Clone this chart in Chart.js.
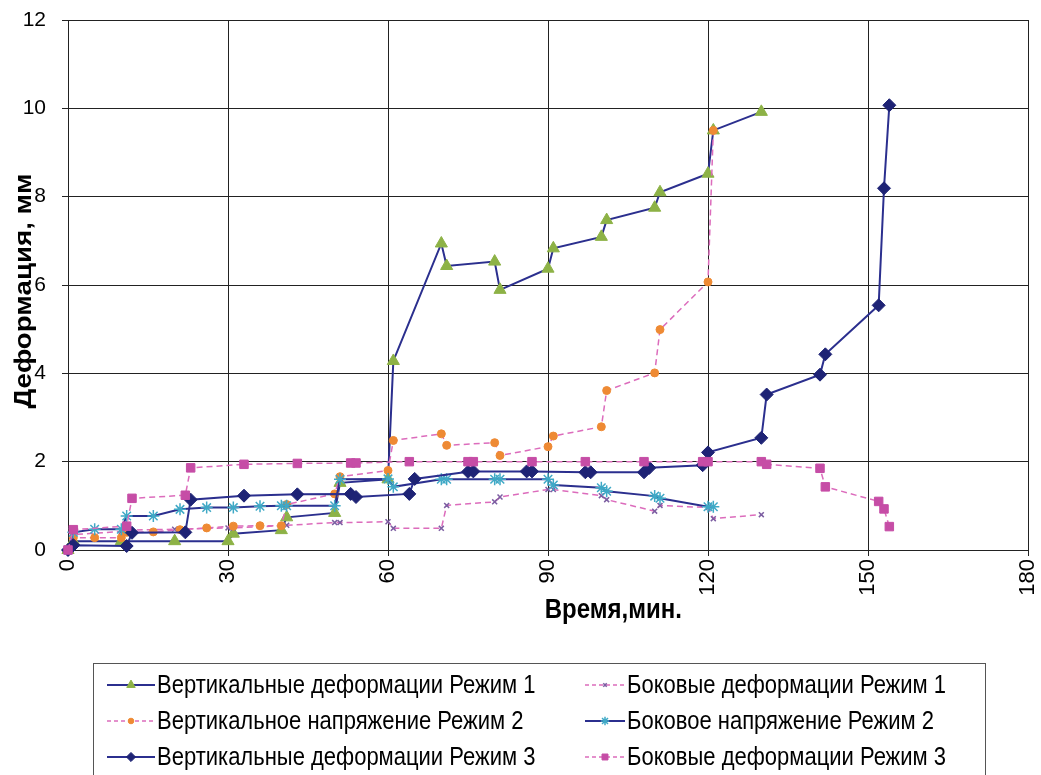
<!DOCTYPE html>
<html>
<head>
<meta charset="utf-8">
<script src="https://cdn.jsdelivr.net/npm/chart.js@4"></script>
<style>
    html, body { margin: 0; padding: 0; background: #fff; }
    #wrap { width: 1041px; height: 775px; }
</style>
</head>
<body>
<div id="wrap"><canvas id="deform-chart" width="1041" height="775"></canvas></div>
<script>
// Время, мин. / значения, мм
const vertDef1Time = [0, 1, 10, 20, 30, 31, 40, 41, 50, 51, 60, 61, 70, 71, 80, 81, 90, 91, 100, 101, 110, 111, 120, 121, 130];
const vertDef1Val  = [0, 0.2, 0.2, 0.2, 0.2, 0.37, 0.45, 0.74, 0.84, 1.52, 1.6, 4.28, 6.94, 6.43, 6.53, 5.89, 6.37, 6.83, 7.09, 7.47, 7.75, 8.10, 8.52, 9.50, 9.92];

const sideDef1Time = [0, 1, 10, 11, 20, 30, 31, 40, 41, 50, 51, 60, 61, 70, 71, 80, 81, 90, 91, 100, 101, 110, 111, 120, 121, 130];
const sideDef1Val  = [0, 0.35, 0.42, 0.45, 0.47, 0.5, 0.5, 0.55, 0.56, 0.62, 0.62, 0.64, 0.49, 0.49, 1.01, 1.09, 1.2, 1.37, 1.37, 1.23, 1.14, 0.88, 1.01, 0.96, 0.71, 0.80];

const vertStress2Time = [0, 1, 5, 10, 11, 16, 21, 26, 31, 36, 40, 41, 50, 51, 60, 61, 70, 71, 80, 81, 90, 91, 100, 101, 110, 111, 120, 121];
const vertStress2Val  = [0, 0.28, 0.28, 0.28, 0.4, 0.41, 0.46, 0.5, 0.54, 0.55, 0.55, 1.03, 1.27, 1.66, 1.8, 2.48, 2.63, 2.37, 2.43, 2.14, 2.34, 2.58, 2.79, 3.61, 4.01, 4.99, 6.07, 9.5];

const sideStress2Time = [0, 1, 5, 10, 11, 16, 21, 26, 31, 36, 40, 41, 50, 51, 60, 61, 70, 71, 80, 81, 90, 91, 100, 101, 110, 111, 120, 121];
const sideStress2Val  = [0, 0.4, 0.47, 0.47, 0.77, 0.77, 0.92, 0.96, 0.96, 0.99, 1.0, 1.0, 1.0, 1.6, 1.61, 1.43, 1.6, 1.6, 1.6, 1.6, 1.6, 1.47, 1.41, 1.33, 1.22, 1.17, 0.98, 0.98];

const vertDef3Time = [0, 1, 11, 12, 22, 23, 33, 43, 53, 54, 64, 65, 75, 76, 86, 87, 97, 98, 108, 109, 119, 120, 130, 131, 141, 142, 152, 153, 154];
const vertDef3Val  = [0, 0.11, 0.09, 0.39, 0.4, 1.14, 1.23, 1.26, 1.27, 1.2, 1.27, 1.61, 1.77, 1.78, 1.78, 1.78, 1.76, 1.76, 1.76, 1.86, 1.92, 2.21, 2.54, 3.52, 3.97, 4.43, 5.54, 8.19, 10.07];

const sideDef3Time = [0, 1, 11, 12, 22, 23, 33, 43, 53, 54, 64, 75, 76, 87, 97, 108, 119, 120, 130, 131, 141, 142, 152, 153, 154];
const sideDef3Val  = [0, 0.46, 0.54, 1.17, 1.24, 1.86, 1.94, 1.96, 1.97, 1.97, 2.0, 2.0, 2.0, 2.0, 2.0, 2.0, 2.0, 2.0, 2.0, 1.94, 1.85, 1.43, 1.1, 0.93, 0.53];

const seriesLabels = [
    'Вертикальные деформации Режим 1',
    'Боковые деформации Режим 1',
    'Вертикальное напряжение Режим 2',
    'Боковое напряжение Режим 2',
    'Вертикальные деформации Режим 3',
    'Боковые деформации Режим 3'
];

const xTicks = [0, 30, 60, 90, 120, 150, 180];
const yTicks = [0, 2, 4, 6, 8, 10, 12];

const xTitle = 'Время,мин.';
const yTitle = 'Деформация, мм';


const FONT = '"Liberation Sans", Arial, sans-serif';
const STRETCH = 1.18;

function points(xs, ys) {
    return xs.map((x, i) => ({ x: x, y: ys[i] }));
}

const NAVY = '#2B2F8E';
const PINK = '#DC6CBC';

const styles = [
    { line: NAVY, dash: [], width: 2, marker: '#8DB246', shape: 'triangle', r: 7, bw: 1 },
    { line: PINK, dash: [6, 4], width: 1.5, marker: '#7C5EA2', shape: 'crossRot', r: 3.5, bw: 1.5 },
    { line: PINK, dash: [6, 4], width: 1.5, marker: '#EE8A34', shape: 'circle', r: 4, bw: 1 },
    { line: NAVY, dash: [], width: 2, marker: '#3FA9C6', shape: 'star', r: 6, bw: 1.5 },
    { line: NAVY, dash: [], width: 2, marker: '#1E2375', shape: 'rectRot', r: 6.5, bw: 1 },
    { line: PINK, dash: [6, 4], width: 1.5, marker: '#C64DA6', shape: 'rect', r: 6, bw: 1 }
];

const seriesData = [
    points(vertDef1Time, vertDef1Val),
    points(sideDef1Time, sideDef1Val),
    points(vertStress2Time, vertStress2Val),
    points(sideStress2Time, sideStress2Val),
    points(vertDef3Time, vertDef3Val),
    points(sideDef3Time, sideDef3Val)
];

const datasets = seriesData.map((data, i) => {
    const s = styles[i];
    return {
        label: seriesLabels[i],
        data: data,
        borderColor: s.line,
        borderWidth: s.width,
        borderDash: s.dash,
        pointStyle: s.shape,
        pointRadius: s.r,
        pointHoverRadius: s.r,
        pointBackgroundColor: s.marker,
        pointBorderColor: s.marker,
        pointBorderWidth: s.bw,
        fill: false,
        tension: 0,
        clip: 10,
        order: seriesData.length - i
    };
});


// текст, вытянутый по вертикали как на исходной картинке
function stretchedText(ctx, text, x, y, rotate) {
    ctx.save();
    ctx.translate(x, y);
    if (rotate) {
        ctx.rotate(-Math.PI / 2);
        ctx.scale(STRETCH, 1);
    } else {
        ctx.scale(1, STRETCH);
    }
    ctx.fillText(text, 0, 0);
    ctx.restore();
}

// легенда в рамке и подписи осей
const extrasPlugin = {
    id: 'extras',
    afterDraw(chart) {
        const ctx = chart.ctx;
        const area = chart.chartArea;
        ctx.save();

        ctx.fillStyle = '#000';
        ctx.textAlign = 'center';
        ctx.textBaseline = 'middle';
        ctx.font = 'bold 24px ' + FONT;
        stretchedText(ctx, xTitle, area.left + (area.right - area.left) * 0.568, 610, false);
        ctx.font = 'bold 23.5px ' + FONT;
        stretchedText(ctx, yTitle, 25, (area.top + area.bottom) / 2 + 6, true);

        const boxLeft = 93.5, boxTop = 663.5, boxRight = 985.5;
        ctx.strokeStyle = '#555';
        ctx.lineWidth = 1;
        ctx.setLineDash([]);
        ctx.strokeRect(boxLeft, boxTop, boxRight - boxLeft, 140);

        const colX = [107, 585];
        const colW = [48, 40];
        const rowY = [685, 721, 757];
        ctx.font = '22px ' + FONT;
        ctx.textAlign = 'left';

        seriesLabels.forEach((label, i) => {
            const s = styles[i];
            const col = i % 2;
            const x0 = colX[col];
            const w = colW[col];
            const y = rowY[Math.floor(i / 2)];

            ctx.strokeStyle = s.line;
            ctx.lineWidth = s.width;
            ctx.setLineDash(s.dash.length ? [4, 3] : []);
            ctx.beginPath();
            ctx.moveTo(x0, y);
            ctx.lineTo(x0 + w, y);
            ctx.stroke();

            ctx.setLineDash([]);
            ctx.fillStyle = s.marker;
            ctx.strokeStyle = s.marker;
            ctx.lineWidth = s.bw;
            Chart.helpers.drawPoint(ctx, {
                pointStyle: s.shape,
                radius: s.r * 0.7,
                rotation: 0,
                borderWidth: s.bw
            }, x0 + w / 2, y);

            ctx.fillStyle = '#000';
            stretchedText(ctx, label, x0 + w + 2, y + 1, false);
        });

        ctx.restore();
    }
};

function noOverflow(scale) {
    scale.paddingLeft = 0;
    scale.paddingRight = 0;
    scale.paddingTop = 0;
    scale.paddingBottom = 0;
}

new Chart(document.getElementById('deform-chart'), {
    type: 'line',
    data: { datasets: datasets },
    options: {
        responsive: false,
        animation: false,
        devicePixelRatio: 1,
        layout: {
            padding: { top: 20, right: 13, bottom: 145, left: 0 }
        },
        plugins: {
            legend: { display: false },
            tooltip: { enabled: false }
        },
        scales: {
            x: {
                type: 'linear',
                min: 0,
                max: 180,
                afterBuildTicks: scale => { scale.ticks = xTicks.map(v => ({ value: v })); },
                afterFit: scale => { scale.height = 80; noOverflow(scale); },
                grid: { color: '#222', lineWidth: 1, tickLength: 6 },
                border: { color: '#222', width: 1 },
                ticks: {
                    autoSkip: false,
                    minRotation: 90,
                    maxRotation: 90,
                    padding: 3,
                    color: '#000',
                    font: { family: FONT, size: 22 }
                }
            },
            y: {
                type: 'linear',
                min: 0,
                max: 12,
                afterBuildTicks: scale => { scale.ticks = yTicks.map(v => ({ value: v })); },
                afterFit: scale => { scale.width = 68; noOverflow(scale); },
                grid: { color: '#222', lineWidth: 1, tickLength: 6 },
                border: { color: '#222', width: 1 },
                ticks: {
                    padding: 16,
                    color: '#000',
                    font: { family: FONT, size: 21 }
                }
            }
        }
    },
    plugins: [extrasPlugin]
});
</script>
</body>
</html>
